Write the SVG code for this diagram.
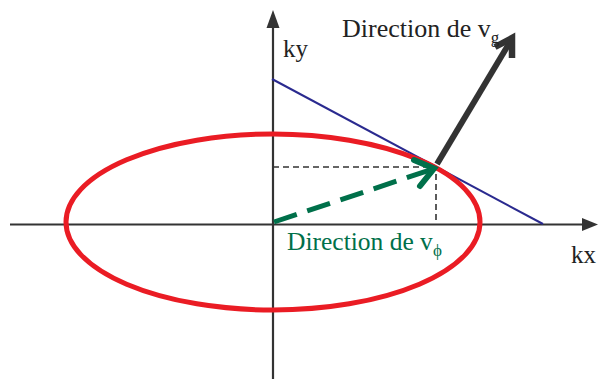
<svg xmlns="http://www.w3.org/2000/svg" width="598" height="379" viewBox="0 0 598 379">
<style>
.axis{stroke:#333;stroke-width:2.2;fill:none}
.t{font-family:"Liberation Serif",serif;fill:#222}
.g{font-family:"Liberation Serif",serif;fill:#00704a}
</style>
<rect width="598" height="379" fill="#fff"/>
<g id="connectors">
<line class="axis" x1="10" y1="224.5" x2="592" y2="224.5"/>
<path d="M582,218 L598,224.5 L582,231 Z" fill="#333"/>
<line class="axis" x1="273" y1="379" x2="273" y2="22"/>
<path d="M266.5,28 L273,10 L279.5,28 Z" fill="#333"/>
<line x1="272" y1="79" x2="543" y2="224" stroke="#2a2a8f" stroke-width="2"/>
<polyline points="273,167 436,167 436,224" fill="none" stroke="#333" stroke-width="1.6" stroke-dasharray="6,4"/>
</g>
<g id="ellipse"><ellipse cx="273" cy="222" rx="207" ry="88" fill="none" stroke="#ea1c24" stroke-width="5"/></g>
<g id="phase-arrow">
<line x1="274" y1="222" x2="430" y2="170" stroke="#00704a" stroke-width="5" stroke-dasharray="24,11"/>
<polyline points="414,160 434,168.5 420,186" fill="none" stroke="#00704a" stroke-width="6" stroke-linecap="round" stroke-linejoin="miter"/>
</g>
<g id="group-arrow">
<line x1="437" y1="164" x2="510" y2="42" stroke="#333" stroke-width="6"/>
<polyline points="495,47 512,38 512,58" fill="none" stroke="#333" stroke-width="6.5" stroke-linejoin="miter"/>
</g>
<g id="labels">
<text class="t" x="283" y="57" font-size="25">ky</text>
<text class="t" x="571" y="263" font-size="25">kx</text>
<text class="t" x="342" y="37" font-size="26">Direction de v<tspan font-size="17" dy="6">g</tspan></text>
<text class="g" x="287" y="250" font-size="25.5">Direction de v<tspan font-size="17" dy="6">ϕ</tspan></text>
</g>
</svg>
